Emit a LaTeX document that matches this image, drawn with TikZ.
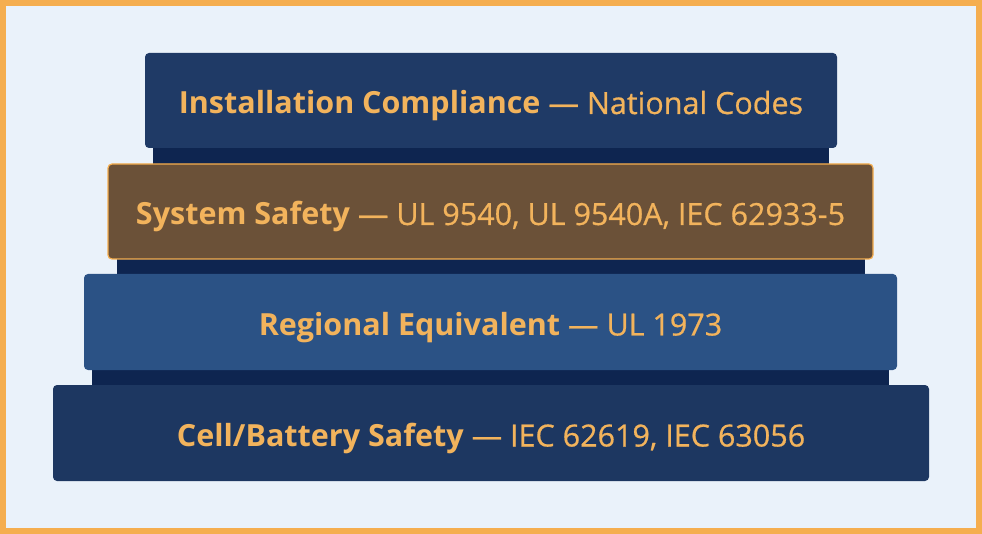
\documentclass[tikz,border=0pt]{standalone}
\usepackage{fontspec}
\setmainfont{Open Sans}
\usepackage{xcolor}
\usepackage{tikz}
\definecolor{pagebg}{HTML}{EAF2FA}
\definecolor{frame}{HTML}{F5AE4F}
\definecolor{navy}{HTML}{1F3A66}
\definecolor{navydark}{HTML}{0E2550}
\definecolor{navylight}{HTML}{2B5285}
\definecolor{bronze}{HTML}{6B5138}
\definecolor{gold}{HTML}{F2B35C}
\newcommand{\stdref}[1]{{\addfontfeatures{FakeBold=0.6}#1}}

\begin{document}
\begin{tikzpicture}[
	x=1pt, y=-1pt,
	layer/.style = {
		rectangle, rounded corners=4pt,
		minimum height=95pt,
		text height=27pt, text depth=0pt,
		text=gold,
		font=\fontsize{30.5}{36}\selectfont
	},
	ledge/.style = {
		fill=navydark
	}
]
	% Background and frame
	\fill[frame] (0, 0) rectangle (982, 534);
	\fill[pagebg] (6, 6) rectangle (976, 528);
	\useasboundingbox (0, 0) rectangle (982, 534);
	% Ledges under each layer
	\fill[ledge] (153, 147) rectangle (829, 164);
	\fill[ledge] (117, 258) rectangle (865, 275);
	\fill[ledge] (92, 369) rectangle (889, 386);
	% Layers
	\node[layer, fill=navy, minimum width=692pt] (install) at (491, 100.5)
		{\textbf{Installation Compliance} \stdref{— National Codes}};
	\node[layer, fill=bronze, draw=frame, line width=1.2pt,
		minimum width=765pt] (system) at (490.5, 211.5)
		{\textbf{System Safety} \stdref{— UL 9540, UL 9540A, IEC 62933-5}};
	\node[layer, fill=navylight, minimum width=813pt,
		minimum height=96pt] (regional) at (490.5, 322)
		{\textbf{Regional Equivalent} \stdref{— UL 1973}};
	\node[layer, fill=navy!95!black, minimum width=876pt,
		minimum height=96pt] (cell) at (491, 433)
		{\textbf{Cell/Battery Safety} \stdref{— IEC 62619, IEC 63056}};
\end{tikzpicture}
\end{document}
